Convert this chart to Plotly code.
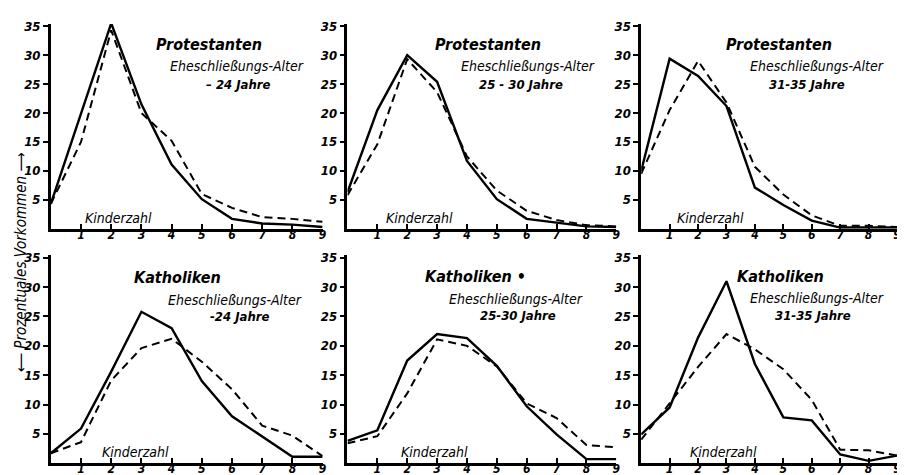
import plotly.graph_objects as go

kinder = [0, 1, 2, 3, 4, 5, 6, 7, 8, 9]
x_tick_vals = [1, 2, 3, 4, 5, 6, 7, 8, 9]
x_tick_text = ["1", "2", "3", "4", "5", "6", "7", "8", "9"]
y_tick_vals = [5, 10, 15, 20, 25, 30, 35]
y_tick_text = ["5", "10", "15", "20", "25", "30", "35"]

# Protestanten
prot_24_solid = [4.3, 20.0, 35.5, 21.5, 11.1, 5.1, 1.7, 0.9, 0.7, 0.3]
prot_24_dash = [4.3, 15.0, 34.3, 20.0, 15.2, 6.0, 3.6, 2.0, 1.7, 1.2]
prot_25_30_solid = [6.3, 20.5, 30.0, 25.4, 11.7, 5.1, 1.7, 1.1, 0.4, 0.3]
prot_25_30_dash = [5.8, 14.6, 29.3, 23.6, 12.5, 6.6, 3.1, 1.5, 0.6, 0.4]
prot_31_35_solid = [10.0, 29.4, 26.4, 21.2, 7.1, 4.1, 1.4, 0.2, 0.2, 0.2]
prot_31_35_dash = [9.5, 20.5, 29.0, 21.8, 10.7, 5.9, 2.3, 0.5, 0.5, 0.3]
# Katholiken
kath_24_solid = [1.7, 5.9, 15.6, 25.8, 23.0, 14.0, 8.0, 4.6, 1.1, 1.1]
kath_24_dash = [1.7, 3.6, 14.1, 19.6, 21.2, 17.3, 12.6, 6.4, 4.7, 1.2]
kath_25_30_solid = [3.8, 5.6, 17.5, 22.0, 21.3, 16.6, 9.7, 4.9, 0.7, 0.7]
kath_25_30_dash = [3.4, 4.6, 11.9, 21.1, 20.0, 16.5, 10.2, 7.7, 3.1, 2.7]
kath_31_35_solid = [4.9, 9.5, 21.4, 31.0, 16.9, 7.8, 7.3, 1.5, 0.4, 1.3]
kath_31_35_dash = [4.0, 10.2, 16.4, 22.0, 19.4, 16.0, 10.8, 2.3, 2.2, 1.3]

titles = ["Protestanten", "Protestanten", "Protestanten",
          "Katholiken", "Katholiken •", "Katholiken"]
subtitle = "Eheschließungs-Alter"
age_labels = ["– 24 Jahre", "25 - 30 Jahre", "31-35 Jahre",
              "-24 Jahre", "25-30 Jahre", "31-35 Jahre"]
x_label = "Kinderzahl"
y_label = "⟵ Prozentuales Vorkommen ⟶"

solid_series = [prot_24_solid, prot_25_30_solid, prot_31_35_solid,
                kath_24_solid, kath_25_30_solid, kath_31_35_solid]
dash_series = [prot_24_dash, prot_25_30_dash, prot_31_35_dash,
               kath_24_dash, kath_25_30_dash, kath_31_35_dash]

W, H = 905, 475
col_px = [(43, 316), (341, 611), (636, 893)]
row_px = [(218, 11), (455, 245)]  # (y of 0, y of top)

# text positions (data coords) per panel
title_pos = [(5.25, 31.8), (4.7, 31.8), (4.85, 31.8), (4.2, 31.6), (4.3, 31.8), (4.9, 31.8)]
sub_pos = [(6.15, 28.2), (6.05, 28.2), (6.2, 28.2), (6.1, 27.8), (5.65, 28.0), (6.2, 28.2)]
age_pos = [(6.2, 25.0), (5.8, 25.0), (5.85, 25.0), (6.25, 25.0), (5.7, 25.2), (6.05, 25.2)]
kz_pos = [(2.25, 1.9), (2.4, 1.9), (2.45, 1.9), (2.8, 1.9), (2.9, 1.9), (2.9, 1.9)]

FONT = "DejaVu Sans Condensed, DejaVu Sans, sans-serif"

fig = go.Figure()
annotations = []
layout = dict(width=W, height=H, margin=dict(l=0, r=0, t=0, b=0),
              paper_bgcolor="white", plot_bgcolor="white", showlegend=False)

for i in range(6):
    r, c = divmod(i, 3)
    idx = "" if i == 0 else str(i + 1)
    xa, ya = "x" + idx, "y" + idx
    x0, x1 = col_px[c]
    y0, y1 = row_px[r]
    layout["xaxis" + idx] = dict(
        domain=[x0 / W, x1 / W], range=[0, 9], anchor=ya,
        showgrid=False, zeroline=False, showline=True, linecolor="black", linewidth=2.5,
        ticks="inside", ticklen=5, tickwidth=2, tickcolor="black",
        tickvals=x_tick_vals, ticktext=x_tick_text, ticklabelstandoff=-7,
        ticklabeloverflow="allow",
        tickfont=dict(family=FONT, size=12, color="black", weight="bold", style="italic"),
    )
    layout["yaxis" + idx] = dict(
        domain=[1 - y0 / H, 1 - y1 / H], range=[0, 35.4], anchor=xa,
        showgrid=False, zeroline=False, showline=True, linecolor="black", linewidth=2.5,
        ticks="outside", ticklen=5, tickwidth=2, tickcolor="black",
        tickvals=y_tick_vals, ticktext=y_tick_text,
        tickfont=dict(family=FONT, size=13, color="black", weight="bold", style="italic"),
    )
    fig.add_trace(go.Scatter(x=kinder, y=dash_series[i], mode="lines", xaxis=xa, yaxis=ya,
                             line=dict(color="black", width=2, dash="8px,5px"), cliponaxis=False))
    fig.add_trace(go.Scatter(x=kinder, y=solid_series[i], mode="lines", xaxis=xa, yaxis=ya,
                             line=dict(color="black", width=2.4), cliponaxis=False))
    annotations.append(dict(x=title_pos[i][0], y=title_pos[i][1], xref=xa, yref=ya,
                            text=titles[i], showarrow=False,
                            font=dict(family=FONT, size=16, color="black", weight="bold", style="italic")))
    annotations.append(dict(x=sub_pos[i][0], y=sub_pos[i][1], xref=xa, yref=ya,
                            text=subtitle, showarrow=False,
                            font=dict(family=FONT, size=14, color="black", style="italic")))
    annotations.append(dict(x=age_pos[i][0], y=age_pos[i][1], xref=xa, yref=ya,
                            text=age_labels[i], showarrow=False,
                            font=dict(family=FONT, size=13, color="black", weight="bold", style="italic")))
    annotations.append(dict(x=kz_pos[i][0], y=kz_pos[i][1], xref=xa, yref=ya,
                            text=x_label, showarrow=False,
                            font=dict(family=FONT, size=14, color="black", style="italic")))

annotations.append(dict(x=13 / W, y=1 - 252 / H, xref="paper", yref="paper",
                        xanchor="center", yanchor="middle",
                        text=y_label, showarrow=False, textangle=-90,
                        font=dict(family=FONT, size=15, color="black", style="italic")))

layout["annotations"] = annotations
fig.update_layout(**layout)
fig.write_html("out.html")
